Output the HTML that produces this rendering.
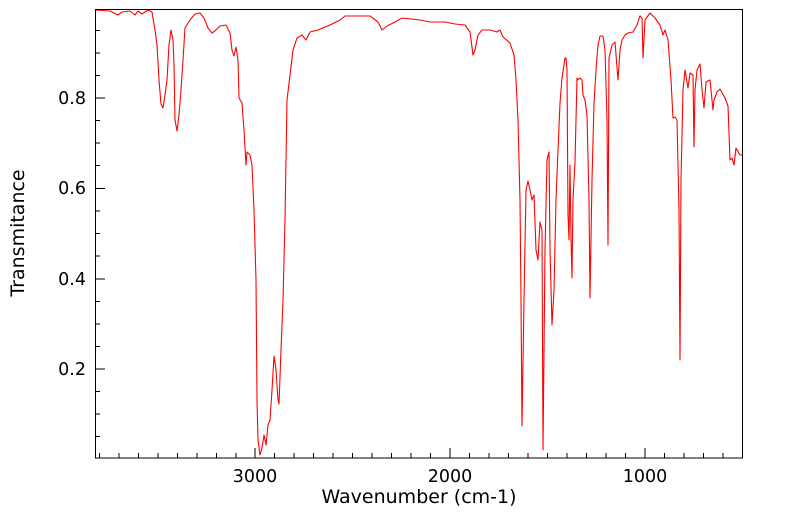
<!DOCTYPE html>
<html><head><style>
body{margin:0;background:#fff;}
</style></head><body>
<svg width="799" height="516" viewBox="0 0 799 516" xmlns="http://www.w3.org/2000/svg">
<rect x="0" y="0" width="799" height="516" fill="#fff"/>
<polyline fill="none" stroke="#ff0000" stroke-width="1.1" stroke-linejoin="round" points="
95,10 110,11 118,15 122,12 130,11 135,15 138,11 142,14 148,10 152,12 155,30 157,45 159,80 161,104 163,108 165,95 167,80 169,45 171,30 173,40 174,65 175,120 177,131 179,115 181,90 183,60 185,28 190,20 195,14 200,13 204,18 208,28 212,33 216,30 220,26 226,25 230,33 232,50 234,56 236,47 238,60 239,98 242,103 244,130 246,165 247,152 250,155 252,165 254,210 256,280 257,400 258,440 260,455 262,448 264,435 266,445 268,425 270,420 272,390 274,356 276,370 278,400 279,404 281,350 283,300 285,220 287,100 290,75 293,50 297,38 302,35 306,40 310,32 318,30 330,25 340,20 345,16 370,16 378,22 382,30 387,26 395,22 402,18 420,20 430,22 445,22 455,24 465,25 470,32 473,55 475,50 478,35 482,30 490,30 497,32 500,30 503,37 510,43 514,55 516,80 518,120 520,200 521,300 522,426 524,300 526,190 528,181 530,190 532,200 534,195 536,250 538,260 540,222 542,230 543,450 545,250 547,160 549,152 550,250 552,325 554,290 556,200 558,150 560,103 562,78 565,58 566,58 567,70 568,215 569,240 570,165 571,237 572,278 573,200 575,162 577,78 578,80 580,78 582,80 583,95 585,100 587,115 589,200 590,298 592,180 594,103 596,70 598,45 600,36 603,36 605,50 607,120 608,245 609,58 612,45 615,42 618,80 620,50 622,40 625,35 628,33 633,32 637,25 640,16 642,18 643,58 645,20 650,13 655,18 660,25 663,35 665,30 668,40 671,80 673,118 675,117 677,120 679,210 680,360 681,180 683,90 685,70 688,88 690,73 693,75 694,147 695,90 697,70 700,64 702,90 704,108 706,82 710,80 713,110 714,100 717,92 720,89 725,98 728,106 730,160 732,158 734,165 736,148 740,155 742,155"/>
<rect x="95.5" y="9.5" width="647" height="448.5" fill="none" stroke="#000" stroke-width="1"/>
<g stroke="#000" stroke-width="1">
<line x1="255" y1="458" x2="255" y2="448"/>
<line x1="450" y1="458" x2="450" y2="448"/>
<line x1="645" y1="458" x2="645" y2="448"/>
<line x1="99.5" y1="458" x2="99.5" y2="453"/><line x1="119" y1="458" x2="119" y2="453"/><line x1="138.5" y1="458" x2="138.5" y2="453"/><line x1="158" y1="458" x2="158" y2="453"/><line x1="177.5" y1="458" x2="177.5" y2="453"/><line x1="197" y1="458" x2="197" y2="453"/><line x1="216.5" y1="458" x2="216.5" y2="453"/><line x1="236" y1="458" x2="236" y2="453"/>
<line x1="274.5" y1="458" x2="274.5" y2="453"/><line x1="294" y1="458" x2="294" y2="453"/><line x1="313.5" y1="458" x2="313.5" y2="453"/><line x1="333" y1="458" x2="333" y2="453"/><line x1="352.5" y1="458" x2="352.5" y2="453"/><line x1="372" y1="458" x2="372" y2="453"/><line x1="391.5" y1="458" x2="391.5" y2="453"/><line x1="411" y1="458" x2="411" y2="453"/><line x1="430.5" y1="458" x2="430.5" y2="453"/>
<line x1="469.5" y1="458" x2="469.5" y2="453"/><line x1="489" y1="458" x2="489" y2="453"/><line x1="508.5" y1="458" x2="508.5" y2="453"/><line x1="528" y1="458" x2="528" y2="453"/><line x1="547.5" y1="458" x2="547.5" y2="453"/><line x1="567" y1="458" x2="567" y2="453"/><line x1="586.5" y1="458" x2="586.5" y2="453"/><line x1="606" y1="458" x2="606" y2="453"/><line x1="625.5" y1="458" x2="625.5" y2="453"/>
<line x1="664.5" y1="458" x2="664.5" y2="453"/><line x1="684" y1="458" x2="684" y2="453"/><line x1="703.5" y1="458" x2="703.5" y2="453"/><line x1="723" y1="458" x2="723" y2="453"/>
<line x1="95" y1="98" x2="105" y2="98"/><line x1="95" y1="188.5" x2="105" y2="188.5"/><line x1="95" y1="279" x2="105" y2="279"/><line x1="95" y1="369" x2="105" y2="369"/>
<line x1="95" y1="30.5" x2="100" y2="30.5"/><line x1="95" y1="53" x2="100" y2="53"/><line x1="95" y1="75.5" x2="100" y2="75.5"/><line x1="95" y1="120.5" x2="100" y2="120.5"/><line x1="95" y1="143" x2="100" y2="143"/><line x1="95" y1="165.5" x2="100" y2="165.5"/><line x1="95" y1="211" x2="100" y2="211"/><line x1="95" y1="233.5" x2="100" y2="233.5"/><line x1="95" y1="256" x2="100" y2="256"/><line x1="95" y1="301.5" x2="100" y2="301.5"/><line x1="95" y1="324" x2="100" y2="324"/><line x1="95" y1="346.5" x2="100" y2="346.5"/><line x1="95" y1="391.5" x2="100" y2="391.5"/><line x1="95" y1="414" x2="100" y2="414"/><line x1="95" y1="436.5" x2="100" y2="436.5"/>
</g>
<g font-family="DejaVu Sans, sans-serif" font-size="17.5" fill="#000">
<text x="255" y="482" text-anchor="middle">3000</text>
<text x="450" y="482" text-anchor="middle">2000</text>
<text x="645" y="482" text-anchor="middle">1000</text>
<text x="86" y="104" text-anchor="end">0.8</text>
<text x="86" y="194" text-anchor="end">0.6</text>
<text x="86" y="285" text-anchor="end">0.4</text>
<text x="86" y="375" text-anchor="end">0.2</text>
<text x="419" y="503" text-anchor="middle" font-size="19">Wavenumber (cm-1)</text>
<text transform="translate(24,233) rotate(-90)" text-anchor="middle" font-size="19">Transmitance</text>
</g>
</svg>
</body></html>
